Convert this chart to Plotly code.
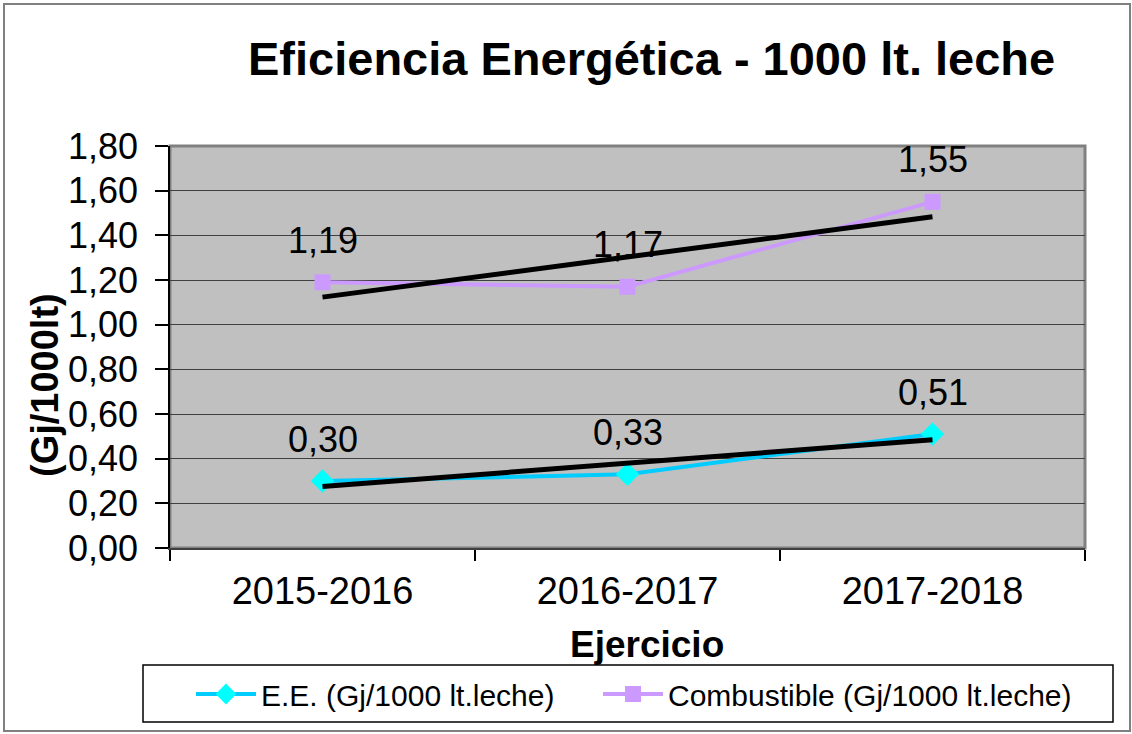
import numpy as np
import plotly.graph_objects as go

periodos = ["2015-2016", "2016-2017", "2017-2018"]
ee = [0.30, 0.33, 0.51]
combustible = [1.19, 1.17, 1.55]

FONT = "Liberation Sans, Arial, sans-serif"


def tendencia(vals):
    # linea de tendencia lineal (como la de Excel)
    xs = np.arange(len(vals))
    m, c = np.polyfit(xs, vals, 1)
    return list(m * xs + c)


def px_x(p):
    return (p - 170) / 915


def px_y(p):
    return (548 - p) / 402


fig = go.Figure()

fig.add_trace(go.Scatter(
    x=periodos, y=ee, mode="lines+markers",
    name="E.E. (Gj/1000 lt.leche)", legend="legend",
    line=dict(color="#00ccff", width=4),
    marker=dict(symbol="diamond", size=18, color="#00ffff"),
))
fig.add_trace(go.Scatter(
    x=periodos, y=combustible, mode="lines+markers",
    name="Combustible (Gj/1000 lt.leche)", legend="legend2",
    line=dict(color="#cc99ff", width=4),
    marker=dict(symbol="square", size=16, color="#cc99ff"),
))
fig.add_trace(go.Scatter(
    x=periodos, y=tendencia(ee), mode="lines", showlegend=False,
    line=dict(color="black", width=5), hoverinfo="skip",
))
fig.add_trace(go.Scatter(
    x=periodos, y=tendencia(combustible), mode="lines", showlegend=False,
    line=dict(color="black", width=5), hoverinfo="skip",
))

# etiquetas de datos
anns = []
for serie in (ee, combustible):
    for p, v in zip(periodos, serie):
        anns.append(dict(
            x=p, y=v, xref="x", yref="y", text=f"{v:.2f}".replace(".", ","),
            showarrow=False, yshift=42, font=dict(size=36, color="black", family=FONT),
        ))

anns.append(dict(
    text="<b>Eficiencia Energética - 1000 lt. leche</b>", xref="paper", yref="paper",
    x=px_x(651), y=px_y(59), xanchor="center", yanchor="middle", showarrow=False,
    font=dict(size=47, color="black", family=FONT),
))
anns.append(dict(
    text="<b>Ejercicio</b>", xref="paper", yref="paper",
    x=px_x(647), y=px_y(644), xanchor="center", yanchor="middle", showarrow=False,
    font=dict(size=37, color="black", family=FONT),
))
anns.append(dict(
    text="<b>(Gj/1000lt)</b>", xref="paper", yref="paper", textangle=-90,
    x=px_x(45), y=px_y(385), xanchor="center", yanchor="middle", showarrow=False,
    font=dict(size=38, color="black", family=FONT),
))

leg = dict(
    orientation="h", xanchor="left", yanchor="middle",
    font=dict(size=30, family=FONT, color="black"), bgcolor="rgba(0,0,0,0)",
    itemwidth=60,
)

fig.update_layout(
    width=1132, height=734,
    margin=dict(l=170, r=47, t=146, b=186),
    paper_bgcolor="white", plot_bgcolor="#c0c0c0",
    separators=",.",
    font=dict(family=FONT, color="black"),
    annotations=anns,
    showlegend=True,
    legend=dict(leg, x=px_x(191), y=px_y(694)),
    legend2=dict(leg, x=px_x(598), y=px_y(694)),
    shapes=[
        dict(type="rect", xref="paper", yref="paper", x0=0, x1=1, y0=0, y1=1,
             line=dict(color="#808080", width=3), layer="below"),
        dict(type="rect", xref="paper", yref="paper",
             x0=px_x(143), x1=px_x(1113), y0=px_y(665), y1=px_y(722),
             line=dict(color="black", width=1.5)),
        dict(type="rect", xref="paper", yref="paper",
             x0=px_x(4), x1=px_x(1130), y0=px_y(4), y1=px_y(731),
             line=dict(color="#808080", width=2)),
    ],
)

fig.update_xaxes(
    type="category", range=[-0.5, 2.5], tickson="boundaries",
    ticks="outside", ticklen=11, tickcolor="black", tickwidth=1.5,
    showline=True, linecolor="#404040", linewidth=2,
    showgrid=False, tickfont=dict(size=38, family=FONT, color="black"),
    ticklabelstandoff=8,
)
fig.update_yaxes(
    range=[0, 1.8], dtick=0.2, tickformat=".2f",
    ticks="outside", ticklen=13, tickcolor="black", tickwidth=1.5,
    showline=True, linecolor="black", linewidth=1.5,
    showgrid=True, gridcolor="#404040", gridwidth=1.2, zeroline=False,
    tickfont=dict(size=36, family=FONT, color="black"),
    ticklabelstandoff=10,
)

fig.write_html("out.html", config={"displayModeBar": False},
               post_script="document.body.style.margin='0px';")
